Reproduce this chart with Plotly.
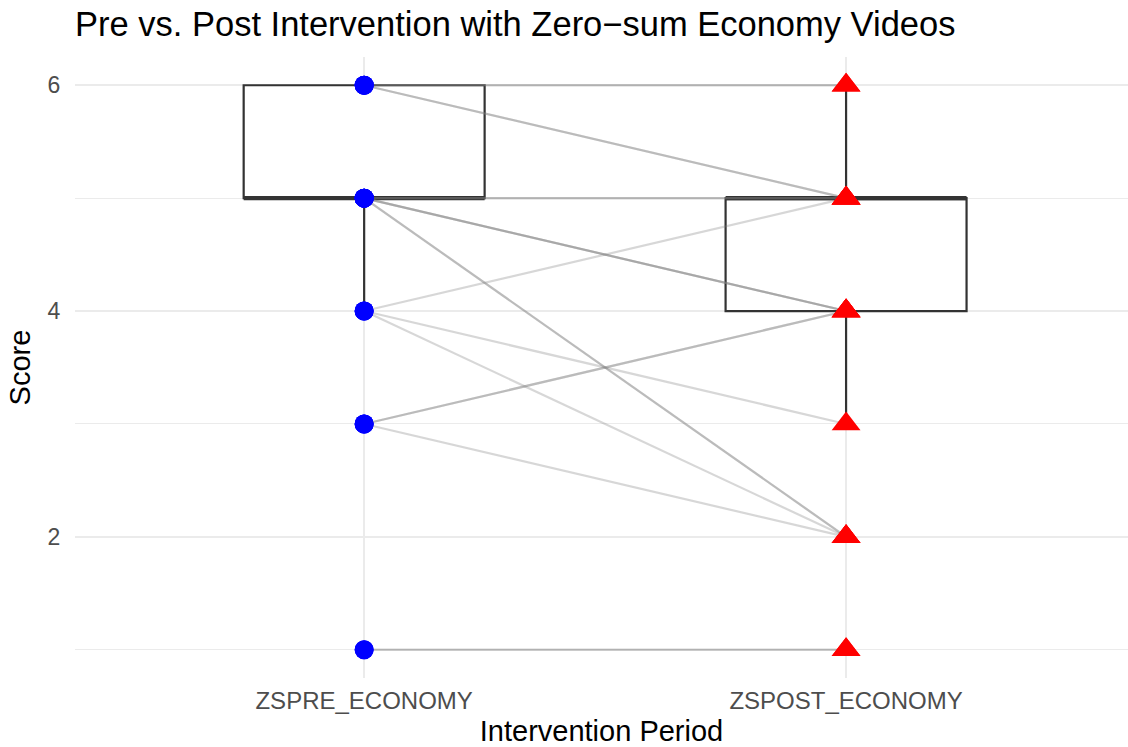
import plotly.graph_objects as go

# ---- data ----
categories = ["ZSPRE_ECONOMY", "ZSPOST_ECONOMY"]
pre_scores = [6, 6, 6, 6, 5, 5, 5, 5, 5, 5, 5, 4, 4, 4, 3, 3, 3, 1, 1]
post_scores = [6, 6, 5, 5, 5, 5, 4, 4, 4, 2, 2, 5, 3, 2, 4, 4, 2, 1, 1]

# box statistics
box_q1 = [5, 4]
box_median = [5, 5]
box_q3 = [6, 5]
box_low = [4, 3]
box_high = [6, 6]

box_width = 0.5
xpos = [0, 1]

fig = go.Figure()

for i, cat in enumerate(categories):
    fig.add_trace(go.Box(
        x=[xpos[i]], q1=[box_q1[i]], median=[box_median[i]], q3=[box_q3[i]],
        lowerfence=[box_low[i]], upperfence=[box_high[i]],
        width=box_width, fillcolor="white", whiskerwidth=0,
        line=dict(color="#333333", width=2.2), boxpoints=False,
        showlegend=False, hoverinfo="skip", name=cat,
    ))
    # thick median (ggplot fatten)
    fig.add_trace(go.Scatter(
        x=[xpos[i] - box_width / 2, xpos[i] + box_width / 2],
        y=[box_median[i], box_median[i]], mode="lines",
        line=dict(color="#333333", width=4.4), showlegend=False, hoverinfo="skip",
    ))

# paired lines
for a, b in zip(pre_scores, post_scores):
    fig.add_trace(go.Scatter(
        x=xpos, y=[a, b], mode="lines",
        line=dict(color="rgba(127,127,127,0.31)", width=2.2),
        showlegend=False, hoverinfo="skip",
    ))

fig.add_trace(go.Scatter(
    x=[xpos[0]] * len(pre_scores), y=pre_scores, mode="markers",
    marker=dict(color="#0000FF", size=19, symbol="circle", line=dict(width=0)),
    showlegend=False,
))
fig.add_trace(go.Scatter(
    x=[xpos[1]] * len(post_scores), y=post_scores, mode="markers",
    marker=dict(color="#FF0000", size=25, symbol="triangle-up", line=dict(width=0)),
    showlegend=False,
))

font_family = "Liberation Sans, Arial, sans-serif"

fig.update_layout(
    width=1128, height=747,
    margin=dict(l=75, r=0, t=57, b=69),
    plot_bgcolor="white", paper_bgcolor="white",
    font=dict(family=font_family, color="black"),
    title=dict(
        text="Pre vs. Post Intervention with Zero\u2212sum Economy Videos",
        x=0, xref="paper", xanchor="left",
        y=1 - 24 / 747, yref="container", yanchor="middle",
        font=dict(size=34.5, color="black", family=font_family),
    ),
    xaxis=dict(
        range=[-0.6, 1.585], tickvals=xpos, ticktext=categories,
        showgrid=True, gridcolor="#EBEBEB", gridwidth=2, zeroline=False,
        ticks="outside", ticklen=1, tickcolor="rgba(0,0,0,0)",
        tickfont=dict(size=24, color="#4D4D4D"),
        title=dict(text="Intervention Period", font=dict(size=29, color="black"), standoff=9),
        showline=False, automargin=False,
    ),
    yaxis=dict(
        range=[0.75, 6.25], tickvals=[2, 4, 6],
        showgrid=True, gridcolor="#EBEBEB", gridwidth=2, zeroline=False,
        ticks="outside", ticklen=9, tickcolor="rgba(0,0,0,0)",
        tickfont=dict(size=23, color="#4D4D4D"),
        title=dict(text="Score", font=dict(size=29, color="black"), standoff=8),
        minor=dict(tickvals=[1, 3, 5], showgrid=True, gridcolor="#EBEBEB", gridwidth=1, ticks=""),
        showline=False, automargin=False,
    ),
)

fig.write_html(
    "out.html",
    config={"displayModeBar": False},
    post_script="document.body.style.margin='0';document.body.style.overflow='hidden';",
)
